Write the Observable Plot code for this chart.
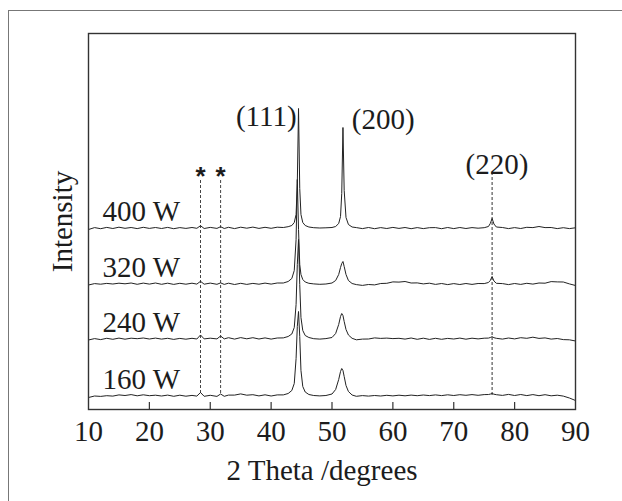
<!DOCTYPE html>
<html>
<head>
<meta charset="utf-8">
<script src="https://cdn.jsdelivr.net/npm/d3@7"></script>
<script src="https://cdn.jsdelivr.net/npm/@observablehq/plot@0.6"></script>
<style>
  html, body { margin: 0; padding: 0; background: #fff; width: 622px; height: 501px; overflow: hidden; }
  #outer { position: absolute; left: 8px; top: 10px; width: 700px; height: 600px; border: 1.5px solid #777; box-sizing: border-box; }
  #chart { position: absolute; left: 0; top: 0; }
  #err { position: absolute; left: 100px; top: 40px; color: red; font: 14px sans-serif; }
</style>
</head>
<body>
<div id="outer"></div>
<div id="chart"></div>
<div id="err"></div>
<script>
// 2-theta sampling positions (degrees)
const theta = [10,11,12,13,14,15,16,17,18,19,20,21,22,23,24,25,26,27,27.8,28.4,29,30,31.1,31.7,32.3,33,34,35,36,37,38,39,40,41,42,42.8,43.4,43.8,44.1,44.3,44.5,44.7,44.9,45.2,45.6,46.2,47,48,49,50,50.6,51.1,51.4,51.6,51.8,52.0,52.3,52.7,53.3,54,55,56,57,58,59,60,61,62,63,64,65,66,67,68,69,70,71,72,73,74,75,75.7,76.0,76.3,76.6,77,78,79,80,81,82,83,84,85,86,87,88,89,90];

// Series names and stacking offsets (a.u.)
const seriesNames = ["400 W", "320 W", "240 W", "160 W"];
const offsets = [181, 125, 70, 13];

// Intensities (a.u., above each trace's baseline)
const i400 = [-1,0.9,-0.2,1.1,0,1.3,0.2,1,-0.1,1.2,0.1,1,0,1.1,-0.2,0.9,0.1,1,0.2,2.8,0,1.1,0.1,1.8,0,1.2,-0.1,1.3,0.3,1.4,0.1,1.2,0.2,1.3,1,
  1.8,3,6,14,45,120,40,14,6,3,1.5,0.8,0.5,0.7,1,2,5,12,35,101,38,11,4,1.5,
  0.9,-0.1,1,-0.2,0.9,0,1.1,0.1,1,-0.2,0.9,-0.1,0.8,0.9,-0.2,1,-0.1,1,0,0.9,0.3,
  0.8,2,5,10,4.5,1.5,
  1,-0.1,0.9,0,1.2,0.9,2,0.9,1,-0.1,0.8,-0.1,0.7];
const i320 = [-0.5,0.9,0.3,1.1,0.5,1.3,0.7,1.5,0.2,1.4,0.4,1.5,0.2,1.3,0.1,1.2,0.3,1.3,0.4,3.2,0.3,1.4,0.2,1.6,0.1,1.3,0,1.2,0.1,1.1,0.3,1.4,0.4,1.5,1.5,
  3,6,14,45,105,55,20,10,5,2.5,1.2,0.6,0.2,0.5,1.5,4,10,17,21,23,18,10,4,1,
  -0.1,-0.9,0,-0.4,1,1.2,2.6,2.4,3,1.5,1.6,0.6,1.3,0.1,1,-0.1,0.9,0,1,0.1,1,
  0.9,2,4,8,3.5,1.2,
  0.9,-0.1,1,0.1,1.2,0.4,1.5,1.3,2.9,2.6,2.5,0.6,-1];
const i240 = [-0.5,0.9,-0.1,1.2,0.2,1.4,0.3,1.3,0.8,1.5,0.5,1.4,0.4,1.2,0.1,1.1,0.3,1.2,0.5,4.5,0.6,1.3,0.6,3.5,0.6,1.8,0.4,1.9,0.7,1.8,0.5,1.6,0.4,1.5,1.6,
  3,5.5,12,35,75,100,55,22,9,4,2,0.8,0.4,0.9,2,6,15,23,26,24,18,10,4.5,1.2,
  -0.3,0.4,0.5,1.6,1.1,1.4,0.9,1.2,0.4,1.5,0.2,1.3,0.1,1.2,0.2,1.1,0.5,1.4,0.3,1.3,0.6,
  1.3,1.4,2,2.8,1.8,1.2,
  0.4,1.5,0.6,1.8,1.2,2.3,1.1,1.6,0.4,1,-0.1,-0.3,-1.5];
const i160 = [-1,0.5,0.1,0.8,0.4,1.6,1,1.9,0.7,1.7,0.8,1.3,0.5,1.4,0.2,1.3,0.3,1.1,0.4,4,0.2,1.2,0.1,2.5,0.2,1.4,1.4,2.6,1.3,1.8,0.6,1.7,0.5,1.6,1.6,
  3,6,13,38,70,85,60,26,10,4.5,2,1,0.6,1,2.5,7,17,25,28,26,20,11,5,1.5,
  0.2,0.9,0.4,1,0.5,1.2,0.6,1.3,0.7,1.4,0.8,1.5,0.9,1.6,0.9,1.7,1,1.8,1.2,1.9,1.2,
  1.9,2,2.4,3,2.3,1.8,
  1.1,2.1,1,2,0.9,1.9,0.8,1.8,0.7,1.3,0.4,-1.5,-4];

// Axis ticks and annotations
const xTicks = [10,20,30,40,50,60,70,80,90];
const impurityTheta = [28.4, 31.7];     // "*" reflections
const peakTheta220 = [76.3];
const peakLabels = ["(111)", "(200)", "(220)"];
const peakLabelTheta = [39.2, 58.4, 77.1];
const peakLabelY = [284, 281, 236];
const seriesLabelTheta = 12.3;

const seriesValues = [i400, i320, i240, i160];
const bad = seriesValues.map((v, s) => v.length !== theta.length ? seriesNames[s] + ":" + v.length : null).filter(Boolean);
if (bad.length) document.getElementById("err").textContent = "len mismatch " + theta.length + " " + bad.join(" ");

const data = [];
seriesValues.forEach((vals, s) => {
  vals.forEach((v, i) => {
    if (i < theta.length) data.push({theta: theta[i], y: v + offsets[s], series: seriesNames[s]});
  });
});

const ink = "#1c1c1c";
const serif = "'Liberation Serif', 'Times New Roman', serif";

const plot = Plot.plot({
  width: 622,
  height: 501,
  marginLeft: 88,
  marginRight: 47,
  marginTop: 33,
  marginBottom: 92,
  style: {fontFamily: serif, color: ink, background: "transparent"},
  x: {domain: [10, 90]},
  y: {domain: [0, 376], axis: null},
  marks: [
    Plot.ruleX(impurityTheta, {x: d => d, y1: 16, y2: 229, stroke: "#444", strokeWidth: 1, strokeDasharray: "3,2"}),
    Plot.ruleX(peakTheta220, {x: d => d, y1: 14, y2: 237, stroke: "#333", strokeWidth: 1, strokeDasharray: "3,2"}),
    Plot.line(data, {x: "theta", y: "y", z: "series", stroke: "#222", strokeWidth: 1}),
    Plot.ruleX(xTicks.slice(1, -1), {x: d => d, y1: 0, y2: 7, stroke: "#333", strokeWidth: 1.2}),
    Plot.frame({stroke: "#333", strokeWidth: 1.4}),
    Plot.axisX({ticks: xTicks, tickSize: 0, tickPadding: 11, fontSize: 29, fontFamily: serif, fill: ink, label: null, tickFormat: d => String(d)}),
    Plot.text(seriesNames, {x: () => seriesLabelTheta, y: (d, i) => offsets[i] + 7.5, text: d => d, textAnchor: "start", lineAnchor: "bottom", fontSize: 29, fontFamily: serif, fill: ink}),
    Plot.text(peakLabels, {x: (d, i) => peakLabelTheta[i], y: (d, i) => peakLabelY[i], text: d => d, textAnchor: "middle", lineAnchor: "bottom", fontSize: 29, fontFamily: serif, fill: ink}),
    Plot.text(impurityTheta, {x: d => d, y: 225, text: () => "*", textAnchor: "middle", lineAnchor: "bottom", fontSize: 26, fontWeight: "bold", fontFamily: "'Liberation Sans', Arial, sans-serif", fill: ink}),
    Plot.text(["2 Theta /degrees"], {frameAnchor: "bottom", dx: -10, dy: 70, text: d => d, textAnchor: "middle", lineAnchor: "bottom", fontSize: 29, fontFamily: serif, fill: ink}),
    Plot.text(["Intensity"], {frameAnchor: "left", dx: -26, rotate: -90, text: d => d, textAnchor: "middle", lineAnchor: "middle", fontSize: 29, fontFamily: serif, fill: ink})
  ]
});
document.getElementById("chart").appendChild(plot);
</script>
</body>
</html>
